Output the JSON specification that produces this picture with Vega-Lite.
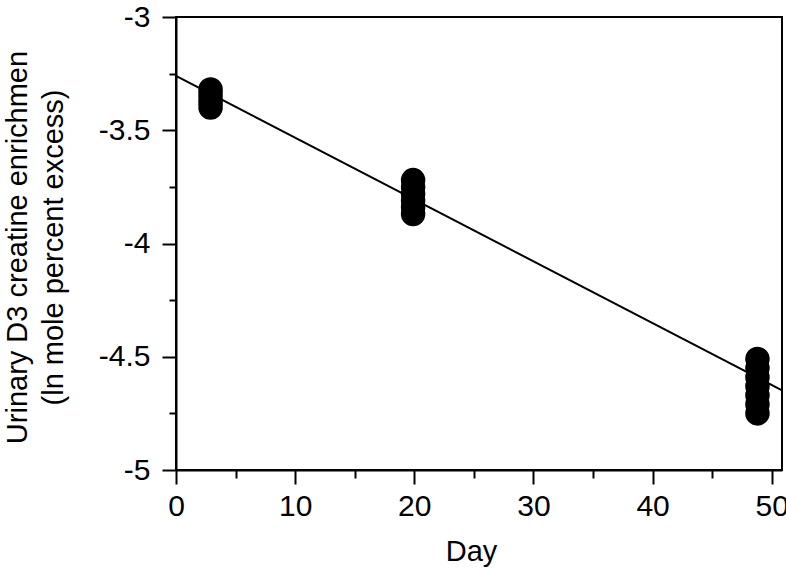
{
  "$schema": "https://vega.github.io/schema/vega-lite/v6.json",
  "width": 606,
  "height": 453,
  "autosize": {"type": "none"},
  "padding": {"left": 176, "top": 17, "right": 4, "bottom": 99},
  "background": "white",
  "config": {
    "view": {"stroke": "black", "strokeWidth": 2},
    "font": "Liberation Sans",
    "axis": {
      "domainColor": "black",
      "domainWidth": 2,
      "tickColor": "black",
      "tickWidth": 2,
      "labelColor": "black",
      "titleColor": "black",
      "labelFont": "Liberation Sans",
      "titleFont": "Liberation Sans",
      "labelFontSize": 30,
      "titleFontSize": 29,
      "titleFontWeight": "normal",
      "grid": false
    }
  },
  "datasets": {
    "points": [
      {"day": 2.9, "value": -3.32},
      {"day": 2.9, "value": -3.34},
      {"day": 2.9, "value": -3.36},
      {"day": 2.9, "value": -3.38},
      {"day": 2.9, "value": -3.40},
      {"day": 19.9, "value": -3.72},
      {"day": 19.9, "value": -3.75},
      {"day": 19.9, "value": -3.78},
      {"day": 19.9, "value": -3.81},
      {"day": 19.9, "value": -3.84},
      {"day": 19.9, "value": -3.87},
      {"day": 48.8, "value": -4.51},
      {"day": 48.8, "value": -4.55},
      {"day": 48.8, "value": -4.59},
      {"day": 48.8, "value": -4.63},
      {"day": 48.8, "value": -4.67},
      {"day": 48.8, "value": -4.71},
      {"day": 48.8, "value": -4.75}
    ],
    "fit": [
      {"day": 0, "value": -3.26},
      {"day": 50.86, "value": -4.648}
    ]
  },
  "encoding": {
    "x": {
      "field": "day",
      "type": "quantitative",
      "scale": {"domain": [0, 50.86], "nice": false, "zero": false},
      "axis": {
        "title": "Day",
        "values": [0, 5, 10, 15, 20, 25, 30, 35, 40, 45, 50],
        "labelExpr": "datum.value % 10 === 0 ? toString(datum.value) : ''",
        "tickSize": {"condition": {"test": "datum.value % 10 === 0", "value": 14}, "value": 8},
        "labelPadding": 7,
        "labelFlush": false,
        "labelOverlap": false,
        "titleX": 295,
        "titleY": 90,
        "titleBaseline": "alphabetic",
        "titleAnchor": "middle"
      }
    },
    "y": {
      "field": "value",
      "type": "quantitative",
      "scale": {"domain": [-5, -3], "nice": false, "zero": false},
      "axis": {
        "title": ["Urinary D3 creatine enrichmen", "(ln mole percent excess)"],
        "values": [-5, -4.75, -4.5, -4.25, -4, -3.75, -3.5, -3.25, -3],
        "labelExpr": "datum.value % 0.5 === 0 ? toString(datum.value) : ''",
        "tickSize": {"condition": {"test": "datum.value % 0.5 === 0", "value": 14}, "value": 7},
        "labelPadding": 12,
        "labelFlush": false,
        "labelOverlap": false,
        "titleX": -150,
        "titleY": 230,
        "titleAngle": -90,
        "titleBaseline": "alphabetic",
        "titleLineHeight": 36,
        "titleAnchor": "middle"
      }
    }
  },
  "layer": [
    {
      "data": {"name": "fit"},
      "mark": {"type": "line", "color": "black", "strokeWidth": 2}
    },
    {
      "data": {"name": "points"},
      "mark": {"type": "circle", "color": "black", "opacity": 1, "size": 600}
    }
  ]
}
